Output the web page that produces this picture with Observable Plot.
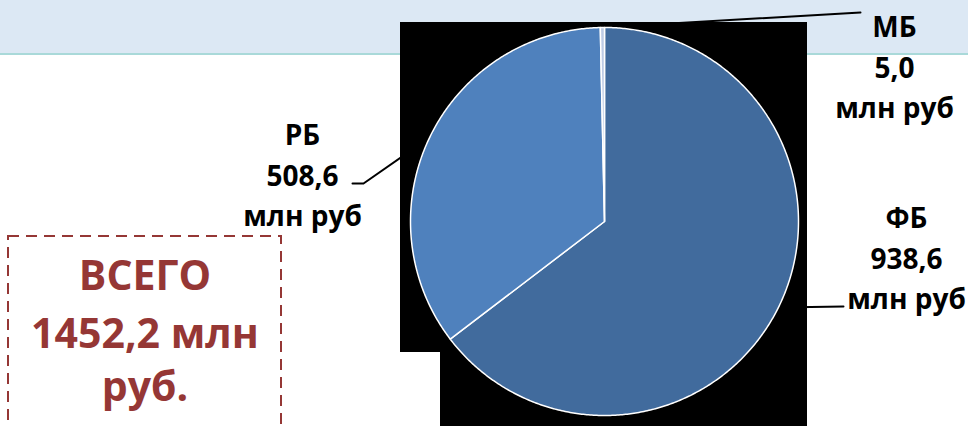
<!DOCTYPE html>
<html><head><meta charset="utf-8">
<script src="https://cdn.jsdelivr.net/npm/d3@7"></script>
<script src="https://cdn.jsdelivr.net/npm/@observablehq/plot@0.6"></script>
<style>
body{margin:0;width:968px;height:426px;overflow:hidden;position:relative;background:#fff;font-family:"Open Sans",sans-serif;}
#band{position:absolute;left:0;top:0;width:968px;height:53px;background:#dce8f4;border-bottom:2px solid #a9d9d9;}
.blk{position:absolute;background:#000;}
#deco{position:absolute;left:0;top:0;}
#chart{position:absolute;left:0;top:0;}
</style></head><body>
<div id="band"></div>
<div class="blk" style="left:400px;top:22px;width:407px;height:330px"></div>
<div class="blk" style="left:440px;top:22px;width:367px;height:404px"></div>
<svg id="deco" width="968" height="426">
  <rect x="8" y="236" width="273" height="260" fill="none" stroke="#953735" stroke-width="2" stroke-dasharray="11 7"/>
  <g id="total" font-family="Open Sans" font-weight="bold" font-size="41" fill="#953735" text-anchor="middle"></g>
</svg>
<div id="chart"></div>
<script>
// ---- data ----
const categories = ["ФБ", "РБ", "МБ"];
const values = [938.6, 508.6, 5.0];
const valueLabels = ["938,6", "508,6", "5,0"];
const unitLabel = "млн руб";
const totalLines = ["ВСЕГО", "1452,2 млн", "руб."];
const colors = ["#416b9d", "#4f81bd", "#bdcbe5"];

// ---- layout ----
const W = 968, H = 426;
const cx = 604, cy = 221, R = 194;
const labelPos = [[906, 255], [302, 172], [894, 64]];       // middle-line centres
const leaderEnds = [[[843, 306]], [[363, 183], [352, 183]], [[860, 12]]];
const totalX = 145, totalBaselines = [290, 348, 401];

// total box text
const g = document.getElementById("total");
totalLines.forEach((t, i) => {
  const el = document.createElementNS("http://www.w3.org/2000/svg", "text");
  el.setAttribute("x", totalX); el.setAttribute("y", totalBaselines[i]);
  el.textContent = t; g.appendChild(el);
});

const arcs = d3.pie().sort(null).value(d => d)(values);
const px = (a, r) => cx + r * Math.sin(a);
const py = (a, r) => cy - r * Math.cos(a);

const slicePts = [];
arcs.forEach((a, i) => {
  const cat = categories[i];
  slicePts.push({cat, x: cx, y: cy});
  const n = Math.max(2, Math.ceil((a.endAngle - a.startAngle) / (Math.PI / 360)));
  for (let k = 0; k <= n; k++) {
    const t = a.startAngle + (a.endAngle - a.startAngle) * k / n;
    slicePts.push({cat, x: px(t, R), y: py(t, R)});
  }
});

const leaderPts = [];
arcs.forEach((a, i) => {
  const m = (a.startAngle + a.endAngle) / 2;
  leaderPts.push({cat: categories[i], x: px(m, R), y: py(m, R)});
  leaderEnds[i].forEach(([x, y]) => leaderPts.push({cat: categories[i], x, y}));
});

const labels = categories.map((c, i) => ({
  text: `${c}\n${valueLabels[i]}\n${unitLabel}`, x: labelPos[i][0], y: labelPos[i][1]
}));

const chart = Plot.plot({
  width: W, height: H,
  margin: 0,
  style: {background: "transparent", fontFamily: "Open Sans"},
  x: {domain: [0, W], range: [0, W], axis: null},
  y: {domain: [0, H], range: [0, H], axis: null},
  color: {domain: categories, range: colors},
  marks: [
    Plot.line(leaderPts, {x: "x", y: "y", z: "cat", stroke: "black", strokeWidth: 2}),
    Plot.line(slicePts, {x: "x", y: "y", z: "cat", fill: "cat", stroke: "white", strokeWidth: 1.5, curve: "linear-closed"}),
    Plot.text(labels, {x: "x", y: "y", text: "text", fontSize: 28, fontWeight: "bold", fill: "black", lineHeight: 1.45, textAnchor: "middle", lineAnchor: "middle"})
  ]
});
document.getElementById("chart").appendChild(chart);
</script>
</body></html>
